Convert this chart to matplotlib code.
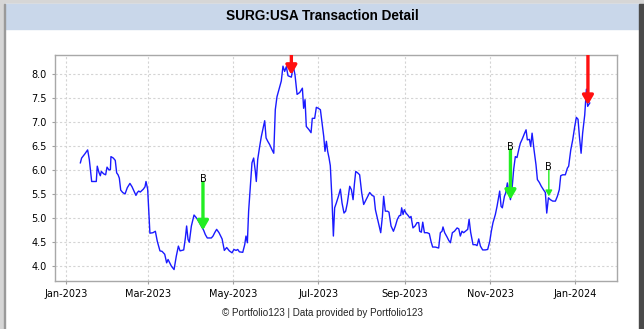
import pandas as pd
import matplotlib
matplotlib.use("Agg")
import matplotlib.pyplot as plt
import matplotlib.dates as mdates
from matplotlib.patches import Rectangle, FancyArrowPatch

# closing prices: days counted from 2023-01-01
start = pd.Timestamp("2023-01-01")
days = [
    10.5, 11.4, 13.8, 15.7, 16.9, 18.6, 20.3, 21.9, 22.6, 23.8, 24.8, 25.5, 27.2, 28.6,
    29.6, 31.0, 32.0, 32.4, 34.1, 35.5, 36.5, 37.5, 38.4, 39.4, 40.8, 42.5, 44.1, 46.0,
    47.5, 48.9, 50.3, 51.3, 52.3, 53.4, 55.6, 56.8, 57.5, 58.7, 60.3, 62.5, 64.2, 65.6,
    67.5, 69.0, 70.9, 72.3, 73.3, 75.7, 77.6, 79.2, 80.7, 81.9, 84.5, 85.7, 86.6, 87.6,
    88.5, 90.0, 91.9, 93.6, 95.2, 97.1, 98.8, 100.0, 101.4, 104.3, 105.5, 106.7, 108.1,
    109.8, 112.0, 113.6, 115.3, 117.2, 119.1, 120.5, 122.0, 123.2, 124.4, 126.8, 128.2,
    129.1, 130.1, 131.0, 132.2, 133.4, 134.6, 135.8, 136.5, 137.5, 138.9, 140.1, 141.1,
    142.5, 143.5, 144.7, 146.1, 147.8, 149.0, 150.1, 151.3, 153.0, 154.4, 155.6, 156.8,
    158.0, 159.2, 161.6, 163.0, 164.2, 165.7, 167.6, 169.5, 170.4, 171.4, 172.3, 174.3,
    175.7, 176.6, 178.3, 179.5, 180.9, 182.4, 183.6, 184.8, 185.7, 186.7, 187.6, 188.6,
    189.5, 190.7, 191.7, 192.6, 193.8, 195.3, 196.7, 197.9, 199.3, 200.5, 201.7, 203.4,
    204.6, 205.8, 206.7, 207.7, 209.1, 210.5, 212.0, 213.4, 214.6, 216.3, 217.7, 219.4,
    220.8, 221.8, 223.7, 225.6, 226.8, 227.7, 228.9, 230.4, 231.5, 233.0, 234.7, 236.1,
    237.5, 239.0, 239.9, 240.6, 241.6, 242.5, 243.7, 245.2, 246.4, 247.3, 248.7, 250.2,
    251.6, 252.8, 253.5, 254.7, 255.7, 256.9, 258.8, 260.4, 261.6, 262.8, 264.7, 267.1,
    268.3, 269.5, 270.2, 271.4, 273.1, 274.3, 275.5, 276.9, 278.4, 280.3, 281.5, 282.6,
    283.8, 285.0, 286.2, 287.9, 288.9, 290.0, 291.7, 293.4, 294.6, 295.8, 297.0, 298.6,
    300.5, 302.2, 303.7, 304.8, 306.0, 307.7, 308.9, 310.1, 310.8, 311.8, 312.7, 314.2,
    315.1, 316.3, 317.3, 318.5, 319.6, 320.8, 322.0, 323.2, 324.4, 325.6, 327.0, 328.5,
    329.7, 330.6, 332.1, 333.0, 334.0, 335.4, 336.8, 337.8, 339.2, 340.6, 342.1, 343.5,
    344.5, 345.7, 347.1, 348.8, 350.7, 352.1, 353.5, 354.5, 355.9, 357.8, 359.3, 360.2,
    361.7, 363.1, 364.5, 365.7, 366.9, 367.9, 369.1, 370.2, 371.7, 372.9, 373.8, 375.3,
]
prices = [
    6.15, 6.25, 6.34, 6.42, 6.22, 5.76, 5.76, 5.76, 6.08, 5.95, 5.88, 5.97, 5.92, 5.90,
    6.06, 6.00, 6.01, 6.28, 6.25, 6.20, 5.94, 5.90, 5.83, 5.58, 5.53, 5.50, 5.63, 5.72,
    5.65, 5.56, 5.47, 5.53, 5.56, 5.54, 5.60, 5.65, 5.76, 5.60, 4.68, 4.69, 4.72, 4.51,
    4.31, 4.30, 4.24, 4.06, 4.13, 3.99, 3.92, 4.20, 4.41, 4.31, 4.33, 4.58, 4.83, 4.55,
    4.49, 4.83, 5.06, 5.00, 4.93, 4.83, 4.74, 4.65, 4.58, 4.58, 4.62, 4.69, 4.76,
    4.69, 4.56, 4.32, 4.38, 4.31, 4.27, 4.34, 4.32, 4.34, 4.29, 4.28, 4.44,
    4.62, 4.48, 5.14, 5.66, 6.15, 6.25, 5.97, 5.76, 6.22, 6.49, 6.70, 6.84,
    7.03, 6.67, 6.60, 6.53, 6.42, 6.35, 7.26, 7.53, 7.71, 7.86, 8.17, 8.06,
    8.16, 7.97, 7.94, 8.17, 7.99, 7.58, 7.62, 7.71, 7.29, 7.47, 6.91, 6.84,
    6.78, 7.08, 7.08, 7.31, 7.29, 7.26, 6.98, 6.70, 6.39, 6.60, 6.39, 6.25,
    6.09, 5.38, 4.62, 5.21, 5.31, 5.45, 5.60, 5.31, 5.10, 5.14, 5.31, 5.66,
    5.59, 5.38, 5.69, 5.97, 5.94, 5.90, 5.52, 5.28, 5.35, 5.45, 5.53, 5.47,
    5.45, 5.17, 4.93, 4.69, 5.03, 5.45, 5.14, 5.14, 5.12, 4.83, 4.72, 4.83,
    4.97, 5.05, 5.05, 5.21, 5.07, 5.17, 5.10, 5.05, 5.00, 5.03, 4.79, 4.83,
    4.90, 4.90, 4.72, 4.70, 4.91, 4.69, 4.69, 4.67, 4.51, 4.39, 4.39, 4.37,
    4.69, 4.72, 4.81, 4.69, 4.60, 4.53, 4.48, 4.69, 4.72, 4.79, 4.77, 4.62,
    4.72, 4.69, 4.72, 4.76, 4.97, 4.70, 4.44, 4.44, 4.42, 4.56, 4.41, 4.33,
    4.33, 4.34, 4.51, 4.72, 4.90, 5.07, 5.24, 5.45, 5.56, 5.24, 5.21, 5.45,
    5.52, 5.73, 5.56, 5.38, 5.59, 6.01, 6.28, 6.26, 6.42, 6.56, 6.65, 6.76,
    6.84, 6.63, 6.64, 6.49, 6.77, 6.42, 6.11, 5.80, 5.74, 5.66, 5.59, 5.53,
    5.10, 5.42, 5.38, 5.35, 5.35, 5.45, 5.59, 5.88, 5.90, 5.90, 6.04, 6.08,
    6.42, 6.63, 6.90, 7.10, 7.06, 6.70, 6.35, 6.77, 7.15, 7.69, 7.33, 7.40,
]

# transactions: B = buy, S = sell
trade_days = [98.3, 161.6, 318.5, 346.0, 374.0]
trade_kind = ["B", "S", "B", "B", "S"]
trade_from = [5.74, 8.99, 6.42, 6.00, 8.40]
trade_to = [4.74, 7.99, 5.38, 5.45, 7.36]
trade_big = [True, True, True, False, True]

dates = start + pd.to_timedelta(days, unit="D")
tdates = start + pd.to_timedelta(trade_days, unit="D")

fig = plt.figure(figsize=(6.44, 3.29), dpi=100, facecolor="#d6d6d6")
W, H = 644, 329


def px_rect(x0, y0, x1, y1, color):
    fig.patches.append(Rectangle((x0 / W, 1 - y1 / H), (x1 - x0) / W, (y1 - y0) / H,
                                 transform=fig.transFigure, color=color, zorder=-5))


px_rect(5, 4, 639, 329, "white")
px_rect(5, 4, 639, 29, "#c9d7ea")
px_rect(639, 4, 644, 329, "#4a4a4a")
px_rect(4, 4, 5.5, 329, "#9a9a9a")

fig.text(0.5, 1 - 16.5 / H, "SURG:USA Transaction Detail", ha="center", va="center",
         fontsize=9.8, fontweight="bold", family="Liberation Sans")
fig.text(0.5, 1 - 313.5 / H, "© Portfolio123 | Data provided by Portfolio123",
         ha="center", va="center", fontsize=7.1, family="Liberation Sans", color="#222222")

ax = fig.add_axes([55.3 / W, 1 - 280.7 / H, (616.7 - 55.3) / W, (280.7 - 55.3) / H])
ax.plot(dates, prices, color="#1a1aff", lw=1.0, zorder=3)

ytop = 8.397
for d, k, y0, y1, big in zip(tdates, trade_kind, trade_from, trade_to, trade_big):
    xd = mdates.date2num(d)
    col = "#22ee22" if k == "B" else "#ff1010"
    if big:
        style = "-|>,head_width=0.32,head_length=0.55"
        lw = 2.4
    else:
        style = "-|>,head_width=0.2,head_length=0.35"
        lw = 1.0
    arr = FancyArrowPatch((xd, y0), (xd, y1), arrowstyle=style, mutation_scale=10,
                          lw=lw, color=col, shrinkA=0, shrinkB=0, zorder=4)
    ax.add_patch(arr)
    # labels sit on the arrow tail; ones far above the plot would be clipped away
    if y0 - 0.04 < ytop:
        ax.text(xd, y0 - 0.04, k, ha="center", va="bottom", fontsize=7, zorder=5,
                clip_on=True)

ax.set_xlim(start - pd.Timedelta(days=7.45), start + pd.Timedelta(days=394.6))
ax.set_ylim(3.687, ytop)
ax.xaxis.set_major_locator(mdates.MonthLocator(bymonth=[1, 3, 5, 7, 9, 11]))
ax.xaxis.set_major_formatter(mdates.DateFormatter("%b-%Y"))
ax.set_yticks([4.0, 4.5, 5.0, 5.5, 6.0, 6.5, 7.0, 7.5, 8.0])
ax.yaxis.set_major_formatter(plt.FormatStrFormatter("%.1f"))
ax.tick_params(labelsize=7, length=2, width=0.8, color="#a0a0a0", pad=4)
ax.grid(True, color="#d4d4d4", linestyle=(0, (2, 2)), lw=0.8)
ax.set_axisbelow(True)
for s in ax.spines.values():
    s.set_color("#a8a8a8")
    s.set_linewidth(1.0)

fig.savefig("out.png", dpi=100, facecolor=fig.get_facecolor())
